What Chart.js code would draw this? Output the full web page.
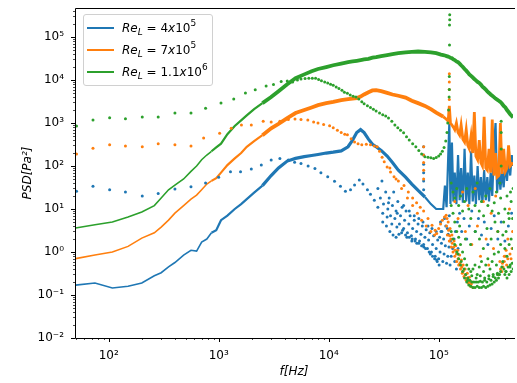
<!DOCTYPE html>
<html>
<head>
<meta charset="utf-8">
<script src="https://cdn.jsdelivr.net/npm/chart.js@4"></script>
<style>
  body { margin: 0; background: #fff; }
  #wrap { position: relative; width: 517px; height: 383px; overflow: hidden; }
  #legend {
    position: absolute; left: 83px; top: 14px; width: 128px; height: 70px;
    border: 1px solid #d0d0d0; border-radius: 3px; background: rgba(255,255,255,0.8);
    font-family: "DejaVu Sans", sans-serif; font-size: 12px; color: #000;
  }
  #legend .row { position: absolute; left: 0; height: 20px; line-height: 20px; white-space: nowrap; }
  #legend .sw { position: absolute; left: 3px; top: 9px; width: 27px; height: 2px; }
  #legend .txt { position: absolute; left: 38px; top: 0; }
  #legend sub { font-size: 9px; vertical-align: -3px; line-height: 0; }
  #legend sup { font-size: 9px; vertical-align: 6px; line-height: 0; }
</style>
</head>
<body>
<div id="wrap">
  <canvas id="psdChart"></canvas>
  <div id="legend">
    <div class="row" style="top:3px"><span class="sw" style="background:#1f77b4"></span><span class="txt"><i>Re</i><sub><i>L</i></sub> = 4<i>x</i>10<sup>5</sup></span></div>
    <div class="row" style="top:25px"><span class="sw" style="background:#ff7f0e"></span><span class="txt"><i>Re</i><sub><i>L</i></sub> = 7<i>x</i>10<sup>5</sup></span></div>
    <div class="row" style="top:47px"><span class="sw" style="background:#2ca02c"></span><span class="txt"><i>Re</i><sub><i>L</i></sub> = 1.1<i>x</i>10<sup>6</sup></span></div>
  </div>
</div>
<script>
    // Frequency grids shared by the three PSD lines
    const lowFreq = [50, 75, 108, 150, 200, 260, 300, 350, 400, 480, 560, 630, 700, 780, 860, 950, 1050, 1200, 1400, 1600,
      1800, 2100, 2500, 3000, 3500, 4200, 5000, 6000, 7000, 8000, 9500, 11000, 13000, 15000, 16500, 18000, 19500, 21000,
      23000, 25000, 27000, 30000, 34000, 38000, 43000, 50000, 57000, 65000, 75000, 85000, 95000, 105000];
    const highFreq = [110000, 114000, 118000, 122000, 125000, 128000, 132000, 136000, 140000, 145000, 150000, 155000, 160000,
      166000, 172000, 178000, 184000, 190000, 197000, 204000, 211000, 218000, 226000, 234000, 242000, 250000, 259000, 268000,
      277000, 287000, 297000, 307000, 318000, 329000, 340000, 352000, 364000, 377000, 390000, 404000, 418000, 432000, 447000,
      462000, 475000];

    // PSD lines
    const blueLow = [0.17, 0.19, 0.145, 0.16, 0.19, 0.28, 0.33, 0.45, 0.57, 0.85, 1.1, 1.05, 1.7, 2.0, 2.8, 3.2, 5.5, 7, 10, 13,
      17, 24, 35, 60, 90, 130, 150, 165, 175, 185, 200, 210, 225, 280, 400, 600, 700, 600, 420, 320, 280, 230, 170, 120, 80,
      55, 38, 27, 19, 13, 10, 10];
    const blueHigh = [10, 35, 11, 150, 1000, 13, 350, 15, 70, 13, 180, 16, 90, 14, 250, 15, 70, 13, 220, 15, 60, 13, 100, 16,
      55, 14, 80, 16, 55, 15, 70, 20, 250, 1000, 24, 100, 28, 75, 32, 120, 45, 150, 60, 180, 100];
    const orangeLow = [0.7, 0.85, 1.0, 1.35, 2.1, 2.8, 3.8, 5.5, 8, 12, 17, 21, 28, 38, 45, 52, 70, 105, 150, 200, 280, 380,
      520, 750, 950, 1300, 1700, 2000, 2300, 2600, 2900, 3100, 3400, 3600, 3700, 3800, 4100, 4600, 5200, 5700, 5800, 5500,
      5000, 4600, 4300, 3900, 3300, 2900, 2500, 2100, 1750, 1500];
    const orangeHigh = [1400, 1300, 1200, 1100, 2500, 1000, 900, 800, 700, 1000, 600, 520, 900, 420, 360, 700, 300, 250, 500,
      200, 1800, 170, 140, 400, 120, 100, 1400, 90, 80, 250, 70, 1200, 60, 200, 55, 60, 1000, 65, 250, 75, 90, 300, 100, 110, 120];
    const greenLow = [3.6, 4.3, 5.0, 6.5, 8.5, 12, 18, 28, 36, 50, 75, 100, 140, 180, 220, 270, 330, 550, 850, 1150, 1500,
      2100, 2900, 4000, 5500, 8000, 11000, 13500, 16000, 18000, 20000, 22000, 24000, 26000, 27000, 28000, 29000, 30000,
      31000, 33000, 34000, 36000, 38000, 40000, 42000, 44000, 45000, 46000, 45000, 44000, 42000, 39000];
    const greenHigh = [38000, 37000, 36000, 35000, 34000, 33000, 32000, 30000, 29000, 27000, 26000, 24000, 22000, 20000,
      18000, 16500, 15000, 13500, 12500, 11500, 10500, 9800, 9000, 8500, 7800, 7000, 6500, 6000, 5400, 5000, 4600, 4300,
      4000, 3700, 3500, 3300, 3100, 2800, 2500, 2300, 2000, 1800, 1600, 1450, 1350];

    // Scattered PSD estimate (dots)
    const blueDotF = [51, 72, 102, 142, 202, 282, 400, 560, 760, 1000, 1280, 1580, 1980, 2440, 3000, 3600, 4300, 4900, 5600,
      6500, 7500, 8500, 9800, 11300, 12800, 14200, 15800, 17200, 19000, 20500, 22500, 24000, 26000, 28000, 31000, 34000,
      37500, 41700, 46000, 51400, 57000, 63300, 73300, 84000, 96000, 101000];
    const blueDotV = [26, 34, 28, 25, 20, 23, 29, 33, 40, 55, 73, 73, 85, 105, 138, 150, 138, 122, 115, 100, 88, 70, 56, 44,
      34, 26, 28, 36, 47, 38, 28, 22, 16, 11, 8, 6.5, 4.5, 3.8, 2.8, 2.2, 1.8, 1.6, 1.3, 0.9, 0.65, 0.5];
    const blueCloudF = [28000, 29500, 30500, 31500, 33000, 34500, 35500, 36500, 38000, 39000, 40000, 41000, 42500, 44000,
      45000, 46500, 48000, 49000, 50500, 52000, 53500, 55000, 56500, 58000, 60000, 61500, 63000, 65000, 67000, 69000, 71000,
      73000, 75000, 77000, 79000, 81000, 83000, 86000, 88000, 90000, 93000, 95000, 98000, 100000, 103000, 106000, 109000,
      112000, 115000, 118000, 121000, 124000, 127000, 130000, 134000, 138000, 142000, 148000, 155000, 162000, 170000, 180000,
      190000, 200000, 215000, 230000, 245000, 260000, 280000, 300000, 320000, 345000, 370000, 400000, 430000, 460000,
      73000, 73000, 73000, 73000, 73000, 73000, 105000, 120000, 140000, 145000, 150000,
      31000, 33500, 36000, 38500, 41000, 43500, 47000, 50000, 54000, 57500, 61000, 66000, 70000, 76000, 82000, 88000, 92000,
      97000, 102000, 107000, 111000, 116000, 122000, 128000, 35000, 42000, 48000, 54000, 60000, 66000, 72000, 80000, 87000,
      95000, 104000, 113000, 125000];
    const blueCloudV = [30, 18, 45, 13, 25, 10, 18, 7, 12, 25, 6, 9, 15, 4.5, 7, 11, 3.5, 5.5, 9, 2.8, 4.5, 7, 2.4, 3.5, 5.5,
      2, 3, 4.5, 1.8, 2.6, 4, 1.5, 2.2, 3.3, 1.2, 1.9, 2.8, 1.0, 1.5, 2.4, 0.8, 1.2, 1.9, 0.7, 1.0, 1.6, 0.6, 0.9, 1.4, 0.55,
      0.8, 1.3, 0.5, 0.8, 1.2, 2, 3, 5, 8, 3, 6, 2, 4, 9, 3, 6, 2.5, 5, 1.5, 3.5, 7, 2, 5, 1.8, 4, 8,
      280, 180, 110, 70, 45, 28, 3, 3.5, 0.6, 0.4, 1.2,
      5, 4, 3, 2.5, 2.2, 2.6, 3.2, 2.5, 2.2, 2, 1.8, 1.6, 1.4, 1.2, 1.0, 0.8, 0.7, 0.6, 2.2, 3, 2, 4, 2.6, 1.8, 14, 8, 12,
      9, 7, 6, 5, 4, 3.5, 3, 5, 6, 7];

    const orangeDotF = [51, 72, 102, 142, 202, 282, 400, 560, 730, 1020, 1300, 1610, 1980, 2540, 3000, 3600, 4300, 4940, 5600,
      6460, 7300, 8000, 9000, 10200, 11000, 12000, 13000, 14000, 14800, 16000, 17200, 18500, 20000, 22000, 24000, 26000,
      27600, 29000, 30600, 32000, 34000, 36500, 39300, 43000, 48400, 53000, 58000, 63000, 68000, 73000, 80000, 87000, 93000,
      96000, 100000, 104000, 108000, 113000, 117000];
    const orangeDotV = [190, 260, 310, 290, 280, 330, 310, 290, 450, 580, 750, 900, 900, 1100, 1050, 1100, 1200, 1240, 1200,
      1170, 1050, 1000, 920, 860, 780, 680, 600, 550, 530, 430, 360, 330, 310, 320, 310, 290, 280, 220, 160, 125, 95, 72,
      56, 45, 35, 25, 18, 14, 11, 9, 6, 4.2, 3.2, 2.7, 3.5, 4.5, 5.5, 6.5, 7.2];
    const orangeCloudF = [73000, 73000, 73000, 73000, 73000, 125000, 125000, 125000, 125000, 125000,
      118000, 120000, 122000, 125000, 127000, 130000, 132000, 135000, 138000, 140000, 143000, 146000, 149000, 152000, 155000,
      158000, 161000, 164000, 167000, 170000, 174000, 178000, 182000, 186000, 190000, 195000, 200000, 205000,
      140000, 150000, 165000, 175000, 185000, 200000, 215000, 225000, 240000, 255000, 270000, 285000, 300000, 315000, 330000,
      345000, 360000, 375000, 385000, 395000, 405000, 415000, 425000, 440000, 455000, 470000,
      119000, 123000, 126000, 129000, 133000, 137000, 141000, 145000, 150000, 156000, 162000, 168000, 175000, 182000, 190000,
      198000, 350000, 365000, 380000, 395000, 410000, 425000, 445000, 465000,
      36000, 41000, 46000, 52000, 58000, 64000, 70000, 77000, 85000, 92000];
    const orangeCloudV = [280, 180, 120, 80, 50, 14000, 9000, 6000, 3500, 2000,
      4, 2.5, 5, 1.8, 3.5, 1.3, 2.5, 1.0, 1.8, 0.8, 1.4, 0.6, 1.1, 0.5, 0.85, 0.4, 0.65, 0.32, 0.5, 0.27, 0.4, 0.22, 0.32,
      0.19, 0.26, 0.16, 0.2, 0.15,
      15, 6, 25, 3, 12, 1.5, 30, 4, 0.8, 15, 2, 0.5, 8, 1.2, 20, 3, 0.6, 0.35, 0.45, 0.6, 0.8, 0.5, 2, 10, 0.7, 3,
      6, 3.2, 2.4, 2.0, 1.6, 1.3, 1.1, 0.9, 0.7, 0.55, 0.45, 0.36, 0.3, 0.25, 0.2, 0.18, 0.3, 0.4, 0.55, 0.8, 1.1, 0.7,
      0.9, 1.2,
      90, 50, 30, 18, 12, 8, 5.5, 4, 3, 2.5];

    const greenDotF = [51, 72, 102, 142, 202, 282, 400, 560, 760, 1050, 1370, 1750, 2150, 2700, 3150, 3700, 4200, 4700, 5200,
      5600, 6100, 6600, 7100, 7600, 8100, 8600, 9200, 9800, 10400, 11000, 11700, 12400, 13200, 13900, 14800, 15700, 16700,
      17700, 18800, 20000, 21000, 22500, 24000, 25500, 27000, 29000, 31000, 33000, 35000, 37500, 40000, 42500, 45000, 48000,
      51000, 54000, 58000, 62000, 66000, 70000, 75000, 80000, 85000, 90000, 95000, 100000, 104000, 108000, 112000, 116000,
      119000, 121000, 123000, 124500, 125000, 125000, 125500, 125500, 126000, 126000];
    const greenDotV = [850, 1170, 1320, 1260, 1380, 1380, 1700, 1700, 2200, 2900, 3600, 5000, 5900, 7200, 7800, 9200, 9500,
      9000, 10000, 10500, 10800, 11000, 11000, 11000, 10200, 9600, 9000, 8500, 8000, 7500, 6900, 6300, 5800, 5200, 4900,
      4500, 4200, 4000, 3600, 3100, 2800, 2500, 2300, 2100, 1900, 1700, 1550, 1450, 1300, 1100, 900, 780, 680, 590, 480, 400,
      330, 280, 230, 190, 165, 160, 155, 150, 158, 170, 190, 220, 270, 380, 600, 1000, 2000, 4000, 6000, 12000, 65000,
      190000, 250000, 330000];
    const greenCloudF = [130000, 130000, 130000, 135000, 135000, 135000, 140000, 140000, 140000, 146000, 146000, 146000,
      152000, 152000, 152000, 158000, 158000, 158000, 165000, 165000, 165000, 172000, 172000, 172000, 180000, 180000, 180000,
      188000, 188000, 188000, 196000, 196000, 196000, 205000, 205000, 205000, 214000, 214000, 214000, 224000, 224000, 224000,
      234000, 234000, 234000, 245000, 245000, 245000, 256000, 256000, 256000, 268000, 268000, 268000, 280000, 280000, 280000,
      293000, 293000, 293000, 306000, 306000, 306000, 320000, 320000, 320000, 335000, 335000, 335000, 350000, 350000, 350000,
      366000, 366000, 366000, 370000, 370000, 370000, 370000, 383000, 383000, 400000, 400000, 400000, 418000, 418000, 418000,
      437000, 437000, 437000, 456000, 456000, 456000, 475000, 475000, 475000,
      184000, 200000, 219000, 239000, 262000, 286000, 313000, 342000, 408000, 445000,
      150000, 160000, 170000, 176000, 184000, 192000, 200000, 209000, 219000, 229000, 239000, 250000, 262000, 274000, 286000,
      299000, 313000, 327000, 342000, 358000, 375000, 392000, 410000, 428000, 447000, 466000,
      155000, 175000, 195000, 215000, 235000, 255000, 275000, 300000, 325000, 345000, 360000, 390000, 410000, 430000, 450000,
      470000];
    const greenCloudV = [3, 12, 40, 2, 8, 25, 1.5, 5, 18, 1.0, 3, 30, 0.7, 2.2, 12, 0.5, 1.5, 20, 0.35, 1.0, 9, 0.25, 0.7, 15,
      0.2, 0.5, 30, 0.17, 0.4, 10, 0.16, 0.35, 6, 0.15, 0.4, 25, 0.15, 0.5, 12, 0.16, 0.3, 40, 0.15, 0.45, 9, 0.15, 0.6, 15,
      0.16, 0.35, 7, 0.15, 0.5, 20, 0.16, 0.7, 12, 0.17, 0.4, 30, 0.18, 0.6, 9, 0.2, 0.9, 14, 0.22, 0.5, 25, 0.25, 1.0, 8,
      0.35, 1.5, 18, 1100, 600, 250, 100, 0.6, 2.5, 0.3, 1.2, 10, 0.25, 0.8, 20, 0.3, 1.5, 6, 0.35, 2, 15, 0.4, 1.2, 30,
      0.22, 0.2, 0.2, 0.21, 0.22, 0.24, 0.27, 0.3, 0.35, 0.45,
      0.9, 0.6, 0.4, 0.3, 0.25, 0.22, 0.28, 0.2, 0.25, 0.2, 0.28, 0.2, 0.25, 0.2, 0.28, 0.22, 0.3, 0.25, 0.32, 0.3, 0.45,
      0.4, 0.35, 0.45, 0.5, 0.55,
      4, 2, 1.5, 3, 2, 1.2, 3.5, 2, 5, 3, 40, 5, 3, 8, 25, 6];

    const xTickLabels = ['10²', '10³', '10⁴', '10⁵'];
    const yTickLabels = ['10⁻²', '10⁻¹', '10⁰', '10¹', '10²', '10³', '10⁴', '10⁵'];

    const BLUE = '#1f77b4', ORANGE = '#ff7f0e', GREEN = '#2ca02c';
    const FONT = '"DejaVu Sans", sans-serif';

    function toPoints(fs, vs) {
      return fs.map((f, i) => ({ x: f, y: vs[i] }));
    }

    function isDecade(v) {
      const e = Math.log10(v);
      return Math.abs(e - Math.round(e)) < 1e-9;
    }

    // all 1..9 x 10^n ticks inside [min, max]
    function logTicks(min, max) {
      const out = [];
      for (let e = Math.floor(Math.log10(min)); e <= Math.ceil(Math.log10(max)); e++) {
        for (let m = 1; m <= 9; m++) {
          const v = m * Math.pow(10, e);
          if (v >= min * 0.999 && v <= max * 1.001) out.push({ value: v, major: m === 1 });
        }
      }
      return out;
    }

    function decadeLabel(labels, firstExp) {
      return (value) => {
        if (!isDecade(value)) return '';
        const i = Math.round(Math.log10(value)) - firstExp;
        return labels[i] || '';
      };
    }

    function lineWidth(kind) {
      return ctx => {
        const f = ctx.p0.parsed.x;
        if (f < 800) return 1.6;
        if (f < 2500) return 2.2;
        if (kind === 'blue') return f < 70000 ? 3.2 : 2.2;
        if (kind === 'orange') return f < 110000 ? 3.8 : 2.8;
        return 3.8;
      };
    }

    // matplotlib-like spines and outward tick marks
    const framePlugin = {
      id: 'frame',
      afterDraw(chart) {
        const { ctx, chartArea: a } = chart;
        ctx.save();
        ctx.strokeStyle = '#000';
        ctx.lineWidth = 1;
        ctx.beginPath();
        ctx.moveTo(a.right + 2, a.top + 0.5); ctx.lineTo(a.left + 0.5, a.top + 0.5);
        ctx.lineTo(a.left + 0.5, a.bottom + 0.5); ctx.lineTo(a.right + 2, a.bottom + 0.5);
        ctx.stroke();
        const xs = chart.scales.x, ys = chart.scales.y;
        xs.ticks.forEach(t => {
          const px = Math.round(xs.getPixelForValue(t.value)) + 0.5;
          const len = isDecade(t.value) ? 4 : 2;
          ctx.lineWidth = isDecade(t.value) ? 1 : 0.7;
          ctx.beginPath(); ctx.moveTo(px, a.bottom); ctx.lineTo(px, a.bottom + len); ctx.stroke();
        });
        ys.ticks.forEach(t => {
          const py = Math.round(ys.getPixelForValue(t.value)) + 0.5;
          const len = isDecade(t.value) ? 4 : 2;
          ctx.lineWidth = isDecade(t.value) ? 1 : 0.7;
          ctx.beginPath(); ctx.moveTo(a.left, py); ctx.lineTo(a.left - len, py); ctx.stroke();
        });
        ctx.restore();
      }
    };

    const lineFreq = lowFreq.concat(highFreq);

    function lineSet(vals, color, kind, order) {
      return {
        type: 'line',
        data: toPoints(lineFreq, vals),
        borderColor: color,
        borderWidth: 1.6,
        pointRadius: 0,
        tension: 0,
        order: order,
        segment: { borderWidth: lineWidth(kind) }
      };
    }

    function dotSet(fs, vs, color, order) {
      return {
        type: 'scatter',
        data: toPoints(fs, vs),
        backgroundColor: color,
        borderWidth: 0,
        pointRadius: 1.5,
        pointBorderWidth: 0,
        showLine: false,
        order: order
      };
    }

    window.addEventListener('load', () => {
      const X_MIN = 49.4, X_MAX = 474000, Y_MIN = 0.01, Y_MAX = 472000;
      new Chart(document.getElementById('psdChart').getContext('2d'), {
        type: 'scatter',
        data: {
          datasets: [
            lineSet(blueLow.concat(blueHigh), BLUE, 'blue', 6),
            lineSet(orangeLow.concat(orangeHigh), ORANGE, 'orange', 5),
            lineSet(greenLow.concat(greenHigh), GREEN, 'green', 4),
            dotSet(blueDotF.concat(blueCloudF), blueDotV.concat(blueCloudV), BLUE, 3),
            dotSet(orangeDotF.concat(orangeCloudF), orangeDotV.concat(orangeCloudV), ORANGE, 2),
            dotSet(greenDotF.concat(greenCloudF), greenDotV.concat(greenCloudV), GREEN, 1)
          ]
        },
        options: {
          responsive: true,
          maintainAspectRatio: false,
          animation: false,
          layout: { padding: { top: 8, right: 0, bottom: 0, left: 0 } },
          plugins: { legend: { display: false }, tooltip: { enabled: false } },
          scales: {
            x: {
              type: 'logarithmic',
              min: X_MIN, max: X_MAX,
              afterBuildTicks: s => { s.ticks = logTicks(X_MIN, X_MAX); },
              afterFit: s => { s.height = 45; s.paddingLeft = 0; s.paddingRight = 0; },
              grid: { display: false },
              border: { display: false },
              ticks: {
                autoSkip: false, maxRotation: 0, padding: 3, color: '#000',
                font: { family: FONT, size: 12 },
                callback: decadeLabel(xTickLabels, 2)
              },
              title: {
                display: true, text: 'f[Hz]', color: '#000',
                font: { family: FONT, size: 12, style: 'italic' },
                padding: { top: 0, bottom: 4 }
              }
            },
            y: {
              type: 'logarithmic',
              min: Y_MIN, max: Y_MAX,
              afterBuildTicks: s => { s.ticks = logTicks(Y_MIN, Y_MAX); },
              afterFit: s => { s.width = 75; s.paddingTop = 0; s.paddingBottom = 0; },
              grid: { display: false },
              border: { display: false },
              ticks: {
                autoSkip: false, padding: 3, color: '#000',
                font: { family: FONT, size: 12 },
                callback: decadeLabel(yTickLabels, -2)
              },
              title: {
                display: true, text: 'PSD[Pa²]', color: '#000',
                font: { family: FONT, size: 12, style: 'italic' },
                padding: { top: 21, bottom: 0 }
              }
            }
          }
        },
        plugins: [framePlugin]
      });
    });
</script>
</body>
</html>
